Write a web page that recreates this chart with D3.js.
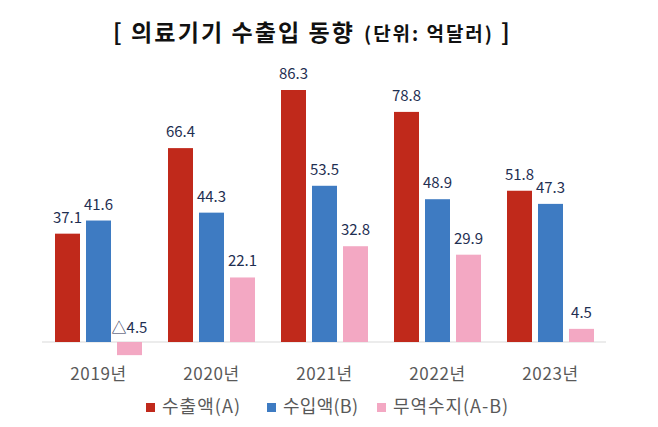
<!DOCTYPE html>
<html><head><meta charset="utf-8">
<script src="https://cdn.jsdelivr.net/npm/d3@7"></script>
<style>body{margin:0;background:#fff}svg{display:block}</style>
</head><body>
<script>
const years = ["2019년","2020년","2021년","2022년","2023년"];
const seriesNames = ["수출액(A)","수입액(B)","무역수지(A-B)"];
const exportVals = [37.1, 66.4, 86.3, 78.8, 51.8];
const importVals = [41.6, 44.3, 53.5, 48.9, 47.3];
const balanceVals = [-4.5, 22.1, 32.8, 29.9, 4.5];
const colors = ["#C0291B", "#3E7BC2", "#F3A8C3"];
const titleMain = "[ 의료기기 수출입 동향";
const titleUnit = "(단위: 억달러)";
const titleEnd = "]";

const W = 658, H = 427;
const svg = d3.select("body").append("svg").attr("width", W).attr("height", H);
const font = "'Noto Sans CJK KR', 'Noto Sans', sans-serif";

const seriesVals = [exportVals, importVals, balanceVals];
const data = years.map((y, i) => ({year: y, vals: seriesVals.map((s, k) => ({k, v: s[i]}))}));

const x0 = d3.scaleBand().domain(years).range([42, 607]).paddingInner(0).paddingOuter(0);
const x1 = d3.scaleBand().domain(d3.range(3)).range([13, 100]).paddingInner(6/31).paddingOuter(0);
const y = d3.scaleLinear().domain([-10, 90]).range([371.2, 79.2]);

// baseline axis line
svg.append("line").attr("x1", 42).attr("x2", 606).attr("y1", y(0)).attr("y2", y(0))
  .attr("stroke", "#d9d9d9").attr("stroke-width", 1);

const g = svg.selectAll("g.grp").data(data).join("g").attr("class","grp")
  .attr("transform", d => `translate(${x0(d.year)},0)`);

g.selectAll("rect").data(d => d.vals).join("rect")
  .attr("x", d => x1(d.k)).attr("width", x1.bandwidth())
  .attr("y", d => y(Math.max(0, d.v))).attr("height", d => Math.abs(y(d.v) - y(0)))
  .attr("fill", d => colors[d.k]);

g.selectAll("text.val").data(d => d.vals).join("text").attr("class","val")
  .attr("x", d => x1(d.k) + x1.bandwidth()/2)
  .attr("y", d => d.v >= 0 ? y(d.v) - 11 : y(0) - 9)
  .attr("text-anchor", "middle")
  .attr("font-family", font).attr("font-size", 15).attr("fill", "#1F2F52")
  .text(d => d.v < 0 ? "△" + Math.abs(d.v) : d.v);

// category axis labels
const xAxis = d3.axisBottom(x0).tickSize(0).tickPadding(0);
const ax = svg.append("g").attr("transform", `translate(0,${y(0)})`).call(xAxis);
ax.select(".domain").remove();
ax.selectAll("text").attr("font-family", font).attr("font-size", 17).attr("fill", "#595959")
  .attr("letter-spacing", 0.6).attr("dy", null).attr("y", 38);

// title
svg.append("text").attr("x", 113).attr("y", 41).attr("font-family", font)
  .attr("font-weight", "bold").attr("fill", "#111").attr("font-size", 23)
  .attr("textLength", 240).attr("lengthAdjust", "spacing").text(titleMain);
svg.append("text").attr("x", 364).attr("y", 41).attr("font-family", font)
  .attr("font-weight", "bold").attr("fill", "#111").attr("font-size", 19)
  .attr("textLength", 128).attr("lengthAdjust", "spacing").text(titleUnit);
svg.append("text").attr("x", 501).attr("y", 41).attr("font-family", font)
  .attr("font-weight", "bold").attr("fill", "#111").attr("font-size", 23).text(titleEnd);

// legend
const legX = [146, 267, 377];
const legW = [78, 75, 115];
const leg = svg.selectAll("g.leg").data(seriesNames).join("g").attr("class","leg")
  .attr("transform", (d, i) => `translate(${legX[i]},0)`);
leg.append("rect").attr("x", 0).attr("y", 403).attr("width", 9).attr("height", 9)
  .attr("fill", (d, i) => colors[i]);
leg.append("text").attr("x", 16).attr("y", 413).attr("font-family", font).attr("font-size", 18)
  .attr("textLength", (d, i) => legW[i]).attr("lengthAdjust", "spacing")
  .attr("fill", "#595959").text(d => d);
</script>
</body></html>
